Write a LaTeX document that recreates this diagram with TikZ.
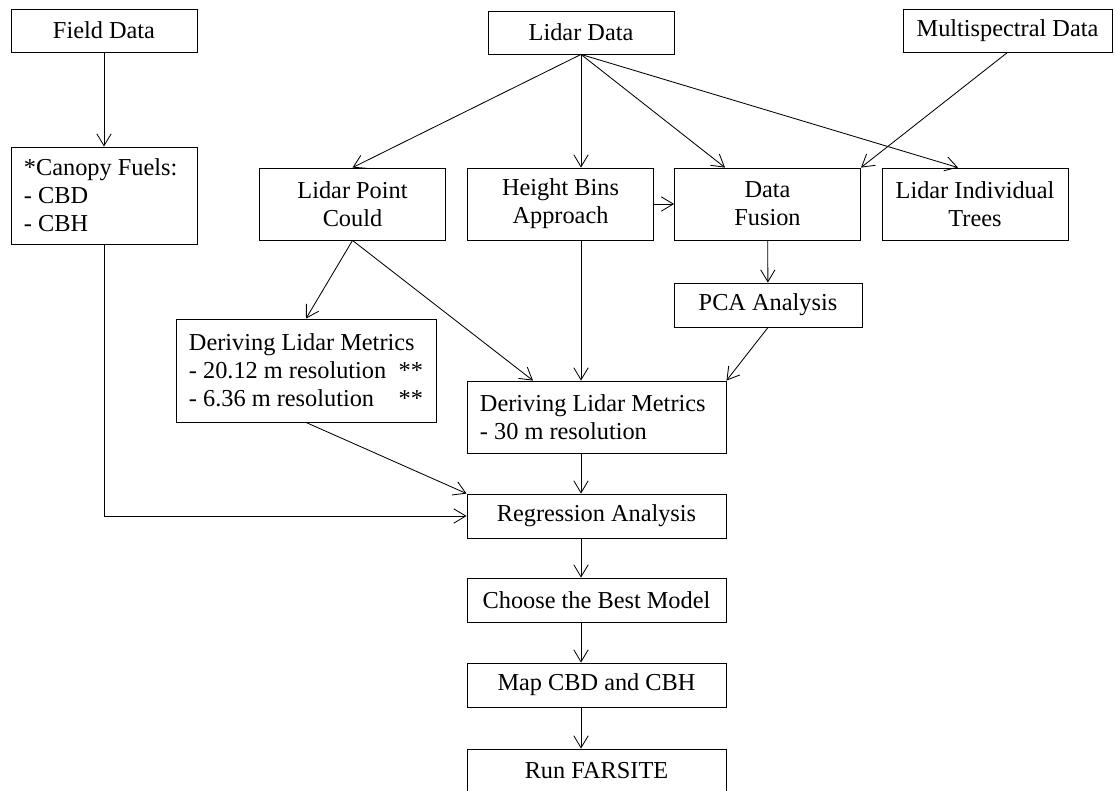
\documentclass[tikz,border=0pt]{standalone}
\usepackage{fontspec}
\setmainfont{Liberation Serif}
\usetikzlibrary{arrows.meta}
\tikzset{
  box/.style={draw, line width=0.6pt, inner sep=0pt, align=center,
    minimum width=4.65cm, minimum height=1.075cm,
    font=\fontsize{17.3}{20}\selectfont},
  lbox/.style={box, align=flush left, inner xsep=0.325cm},
  wbox/.style={box, minimum width=6.475cm, minimum height=1.1cm},
}
\begin{document}
\begin{tikzpicture}[x=0.025cm,y=-0.025cm,line width=0.6pt,
  >={Straight Barb[length=3mm,width=3.6mm]}]
\useasboundingbox (0,0) rectangle (1115,790);
\node[box] (field) at (104,30.5) {Field Data};
\node[box] (lidar) at (581,32.5) {Lidar Data};
\node[box,minimum width=5.225cm] (multi) at (1007.5,30.5) {Multispectral Data};
\node[lbox,text width=4cm,minimum height=2.425cm] (canopy) at (104,195.5)
  {*Canopy Fuels:\\- CBD\\- CBH};
\node[box,minimum height=1.8cm] (lpc) at (352.5,204) {Lidar Point\\Could};
\node[box,minimum height=1.8cm] (bins) at (560.5,204) {Height Bins\\Approach};
\node[box,minimum height=1.8cm] (fusion) at (767.5,204) {Data\\Fusion};
\node[box,minimum height=1.8cm] (trees) at (975,204) {Lidar Individual\\Trees};
\node[box,minimum width=4.7cm,minimum height=1.1cm] (pca) at (768,305) {PCA Analysis};
\node[lbox,text width=5.85cm,minimum height=2.575cm] (metricsA) at (306,370.5)
  {Deriving Lidar Metrics\\- 20.12 m resolution\hfill**\\- 6.36 m resolution\hfill**};
\node[lbox,text width=5.825cm,minimum height=1.8cm] (metricsB) at (596.5,417)
  {Deriving Lidar Metrics\\- 30 m resolution};
\node[wbox] (regr) at (596.5,516) {Regression Analysis};
\node[wbox] (best) at (596.5,600) {Choose the Best Model};
\node[wbox] (map) at (596.5,685) {Map CBD and CBH};
\node[wbox] (run) at (596.5,771) {Run FARSITE};
\draw[->] (field) -- (canopy);
\draw[->] (canopy.south) |- (regr.west);
\draw[->] (lidar.south) -- (lpc.north);
\draw[->] (lidar.south) -- (bins.north -| lidar.south);
\draw[->] (lidar.south) -- ([xshift=-1.0625cm]fusion.north);
\draw[->] (lidar.south) -- ([xshift=-0.425cm]trees.north);
\draw[->] (multi.south) -- (fusion.north east);
\draw[->] (bins) -- (fusion);
\draw[->] (lpc.south) -- (metricsA.north);
\draw[->] (lpc.south) -- ([xshift=-1.5875cm]metricsB.north);
\draw[->] (bins.south -| lidar.south) -- (metricsB.north -| lidar.south);
\draw[->] (fusion) -- (pca);
\draw[->] (pca.south) -- (metricsB.north east);
\draw[->] (metricsA.south) -- (regr.north west);
\draw[->] (metricsB.south -| lidar.south) -- (regr.north -| lidar.south);
\draw[->] (regr.south -| lidar.south) -- (best.north -| lidar.south);
\draw[->] (best.south -| lidar.south) -- (map.north -| lidar.south);
\draw[->] (map.south -| lidar.south) -- (run.north -| lidar.south);
\end{tikzpicture}
\end{document}
